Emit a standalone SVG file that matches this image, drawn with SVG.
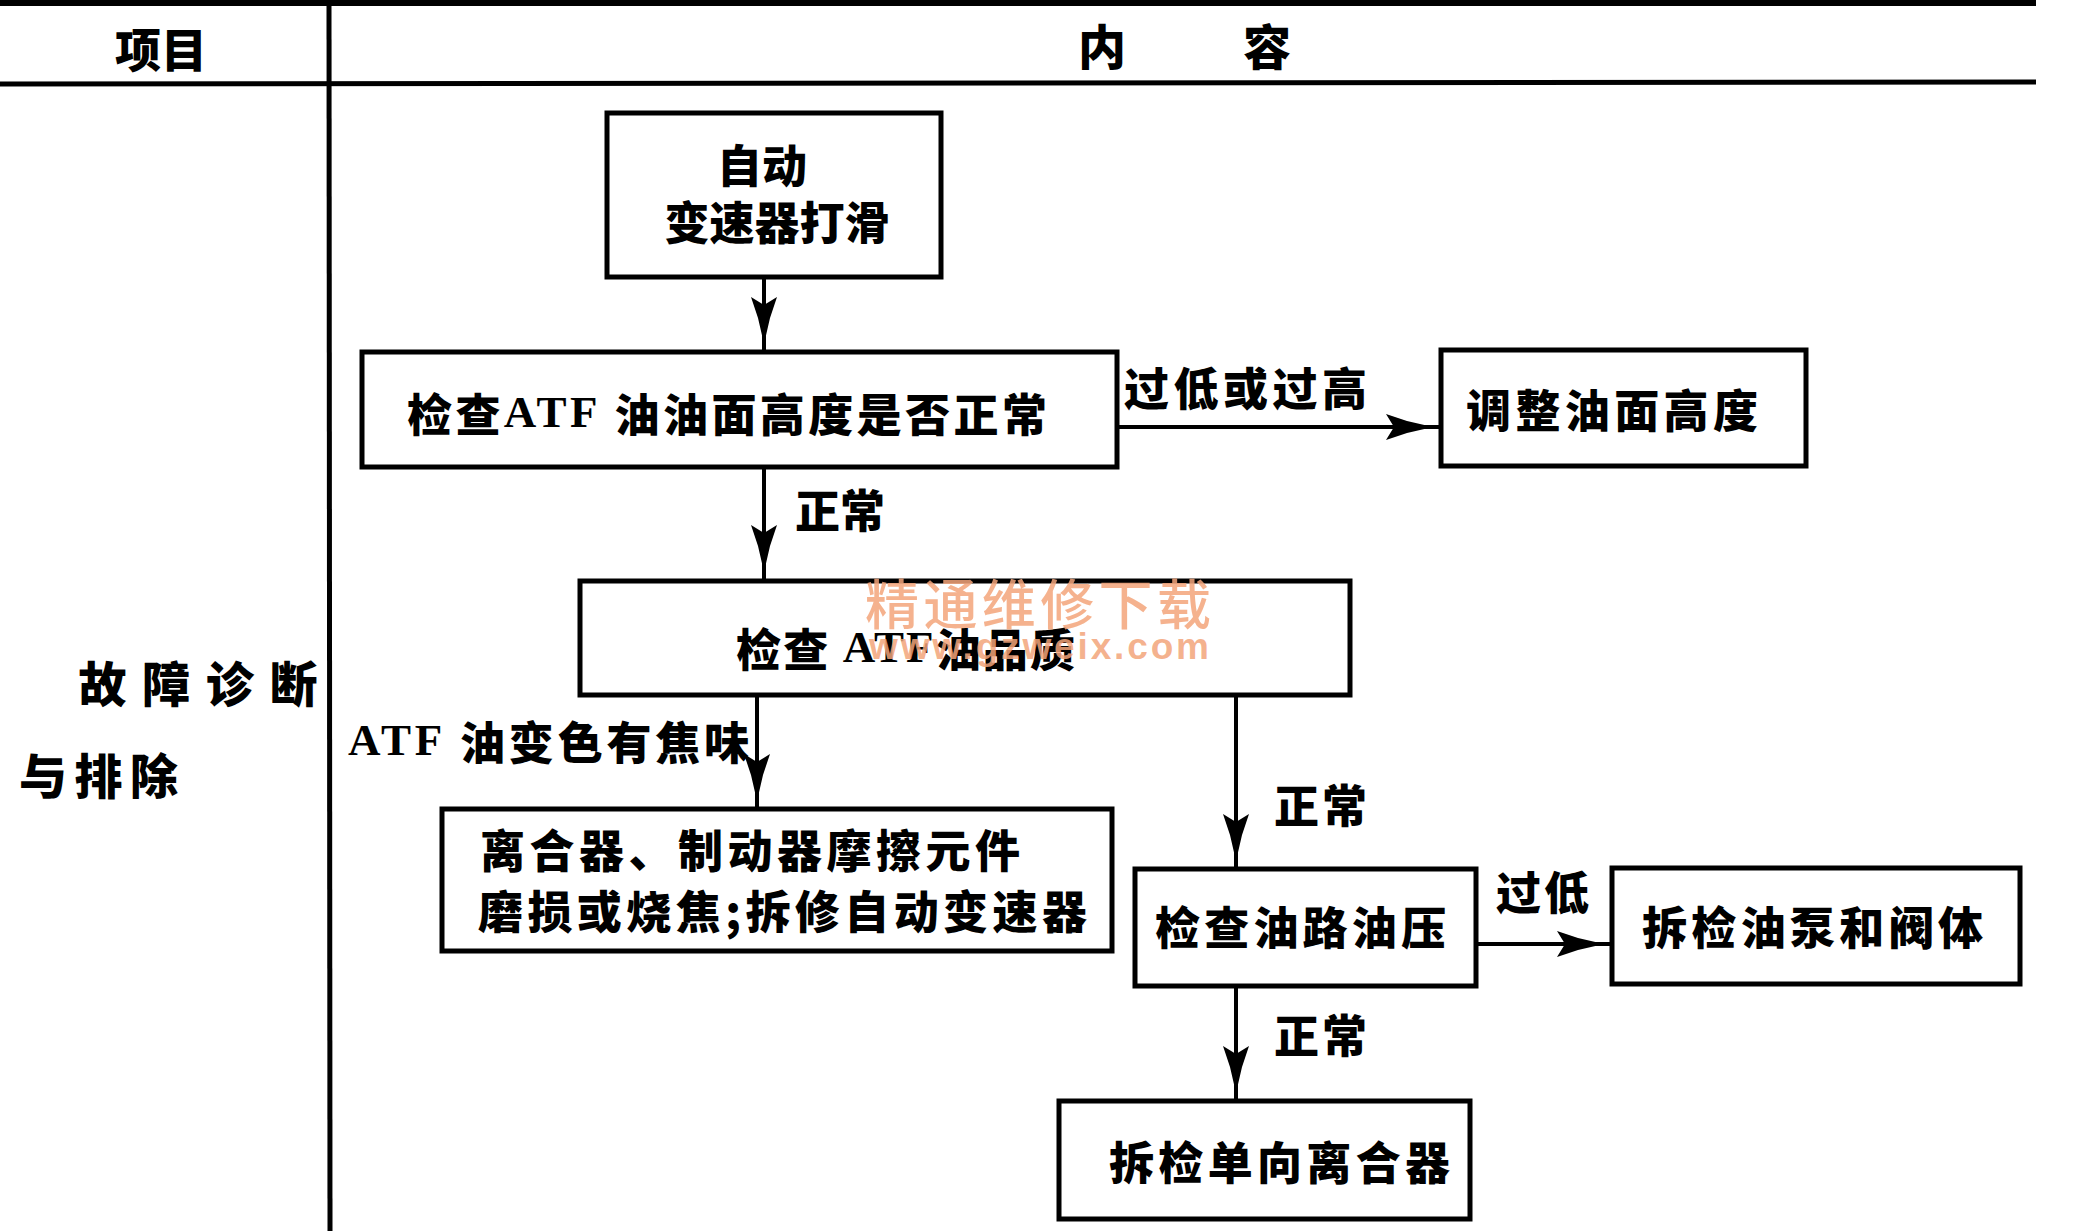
<svg xmlns="http://www.w3.org/2000/svg" width="2078" height="1231" viewBox="0 0 2078 1231">
<style>
.bg{fill:#fff}
.rule{stroke:#000;stroke-width:5;fill:none}
.box{fill:#fff;stroke:#000;stroke-width:5}
.con{stroke:#000;stroke-width:4;fill:none}
.t{font-family:"Noto Sans CJK SC","Noto Sans CJK TC",sans-serif;font-weight:900;font-size:45px;fill:#000;dominant-baseline:central}
.lat{font-family:"Liberation Serif","Noto Sans CJK SC",serif;font-weight:bold}
.wm{font-family:"Noto Sans CJK SC",sans-serif;font-weight:500;font-size:54px;fill:#f3a47a;fill-opacity:0.85;dominant-baseline:central}
.wm2{font-family:"Liberation Sans",sans-serif;font-weight:bold;font-size:37px;fill:#f3a47a;fill-opacity:0.85;dominant-baseline:central}
</style>
<defs>
<marker id="ah" markerUnits="userSpaceOnUse" markerWidth="60" markerHeight="30" viewBox="0 -15 60 30" refX="56" refY="0" orient="auto">
<path d="M48,0 L22,-6 L1,-13 L9,0 L1,13 L22,6 Z" fill="#000"/>
</marker>
</defs>
<rect class="bg" x="0" y="0" width="2078" height="1231"/>
<g id="table">
<line class="rule" x1="0" y1="3" x2="2036" y2="3" style="stroke-width:6"/>
<line class="rule" x1="0" y1="84" x2="2036" y2="82"/>
<line class="rule" x1="329" y1="0" x2="330" y2="1231"/>
<text class="t" x="161" y="47" text-anchor="middle" style="font-size:46px">项目</text>
<text class="t" y="44" style="font-size:48px"><tspan x="1078">内</tspan><tspan x="1243">容</tspan></text>
<text class="t" x="198" y="681" text-anchor="middle" textLength="239" style="font-size:48px">故障诊断</text>
<text class="t" x="19" y="773" textLength="159" style="font-size:48px">与排除</text>
</g>
<g id="connectors">
<line class="con" x1="764" y1="277" x2="764" y2="352" marker-end="url(#ah)"/>
<line class="con" x1="764" y1="467" x2="764" y2="580" marker-end="url(#ah)"/>
<line class="con" x1="1117" y1="427" x2="1441" y2="427" marker-end="url(#ah)"/>
<line class="con" x1="757" y1="695" x2="757" y2="809" marker-end="url(#ah)"/>
<line class="con" x1="1236" y1="695" x2="1236" y2="869" marker-end="url(#ah)"/>
<line class="con" x1="1476" y1="944" x2="1612" y2="944" marker-end="url(#ah)"/>
<line class="con" x1="1236" y1="986" x2="1236" y2="1101" marker-end="url(#ah)"/>
<text class="t" x="795" y="508" textLength="90">正常</text>
<text class="t" x="1124" y="386" textLength="243">过低或过高</text>
<text class="t" x="348" y="740" textLength="401"><tspan class="lat">ATF</tspan>  油变色有焦味</text>
<text class="t" x="1274" y="803" textLength="93">正常</text>
<text class="t" x="1496" y="890" textLength="93">过低</text>
<text class="t" x="1274" y="1033" textLength="93">正常</text>
</g>
<g id="n1">
<rect class="box" x="607" y="113" width="334" height="164"/>
<text class="t" x="762" y="163" text-anchor="middle">自动</text>
<text class="t" x="777" y="220" text-anchor="middle">变速器打滑</text>
</g>
<g id="n2">
<rect class="box" x="362" y="352" width="755" height="115"/>
<text class="t" x="407" y="412" textLength="640">检查<tspan class="lat">ATF</tspan> 油油面高度是否正常</text>
</g>
<g id="n3">
<rect class="box" x="1441" y="350" width="365" height="116"/>
<text class="t" x="1466" y="408" textLength="292">调整油面高度</text>
</g>
<g id="n4">
<rect class="box" x="580" y="581" width="770" height="114"/>
<text class="t" x="736" y="647" textLength="339">检查 <tspan class="lat">ATF</tspan>油品质</text>
</g>
<g id="n5">
<rect class="box" x="442" y="809" width="670" height="142"/>
<text class="t" x="480" y="848" textLength="540">离合器、制动器摩擦元件</text>
<text class="t" x="478" y="909" textLength="609">磨损或烧焦;拆修自动变速器</text>
</g>
<g id="n6">
<rect class="box" x="1135" y="869" width="341" height="117"/>
<text class="t" x="1155" y="925" textLength="291">检查油路油压</text>
</g>
<g id="n7">
<rect class="box" x="1612" y="868" width="408" height="116"/>
<text class="t" x="1642" y="925" textLength="341">拆检油泵和阀体</text>
</g>
<g id="n8">
<rect class="box" x="1059" y="1101" width="411" height="118"/>
<text class="t" x="1109" y="1160" textLength="341">拆检单向离合器</text>
</g>
<g id="watermark">
<text class="wm" x="865" y="601" textLength="346">精通维修下载</text>
<text class="wm2" x="869" y="646" textLength="340">www.gzweix.com</text>
</g>
</svg>
